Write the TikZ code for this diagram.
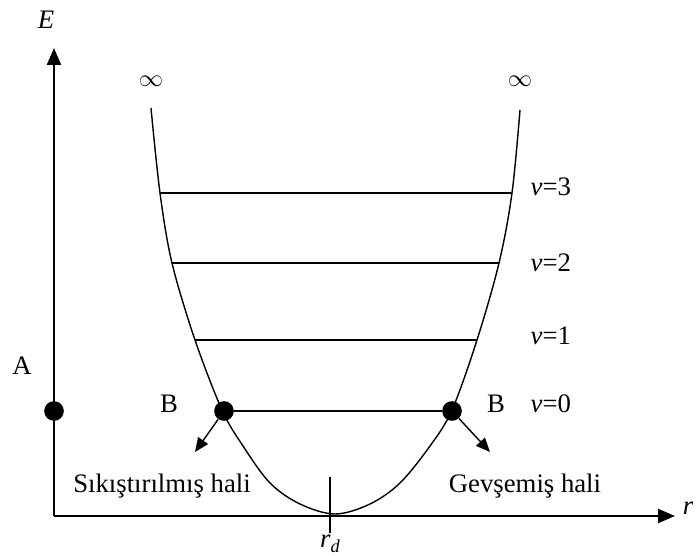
\documentclass[tikz,border=0pt]{standalone}
\usepackage{fontspec}
\setmainfont{Liberation Serif}
\usetikzlibrary{arrows.meta,positioning}

\begin{document}
\begin{tikzpicture}[x=0.025cm, y=-0.025cm,
    font=\fontsize{19}{22}\selectfont,
    axis/.style={line width=1.2pt, -{Triangle[length=12pt,width=10pt]}},
    well/.style={line width=1pt},
    level/.style={line width=1pt},
    dot/.style={circle, fill=black, inner sep=0pt, minimum size=14pt},
    push/.style={line width=1pt, -{Triangle[length=10pt,width=8.5pt]}},
    lbl/.style={inner sep=1pt}]
    \useasboundingbox (0,0) rectangle (698,556);
    % axes
    \coordinate (O) at (54,516);
    \coordinate (Etip) at (54,48);
    \coordinate (rtip) at (675,516);
    \draw [axis] (O) -- (Etip);
    \draw [axis] (O) -- (rtip);
    \node [lbl] (E) at (46,20) {\textit{E}};
    \node [lbl] (r) at (688,508) {\textit{r}};
    % potential well
    \draw [well] plot[smooth, tension=0.55] coordinates {(151,108) (160,193) (172,263) (195,340) (222,410) (243,446) (270,483) (300,504) (335,514) (370,504) (400,483) (430,446) (452,410) (477,340) (499,263) (512,193) (520,110)};
    \node [lbl] (infl) at (151,81) {$\infty$};
    \node [lbl] (infr) at (520,81) {$\infty$};
    % r_d tick
    \coordinate (rdtop) at (330,477);
    \coordinate (rdbot) at (330,533);
    \draw [line width=1pt] (rdtop) -- (rdbot);
    \node [lbl, anchor=north] (rd) at (rdbot) {\textit{r}\rlap{\raisebox{-0.45ex}{\fontsize{13}{14}\selectfont\textit{d}}}\phantom{\fontsize{13}{14}\selectfont\textit{d}}};
    % vibrational levels
    \coordinate (L3) at (160,193); \coordinate (R3) at (512,193);
    \coordinate (L2) at (172,263); \coordinate (R2) at (499,263);
    \coordinate (L1) at (195,340); \coordinate (R1) at (477,340);
    \draw [level] (L3) -- (R3);
    \draw [level] (L2) -- (R2);
    \draw [level] (L1) -- (R1);
    \node [dot] (Bl) at (224,411) {};
    \node [dot] (Br) at (452,411) {};
    \draw [level] (Bl) -- (Br);
    \node [dot] (A) at (54,411) {};
    \node [lbl, anchor=west] (v3) at (529,187) {\textit{v}=3};
    \node [lbl, anchor=west] (v2) at (529,263) {\textit{v}=2};
    \node [lbl, anchor=west] (v1) at (529,336) {\textit{v}=1};
    \node [lbl, anchor=west] (v0) at (529,404) {\textit{v}=0};
    \node [lbl] (Alab) at (22,366) {A};
    \node [lbl] (Bllab) at (169,404) {B};
    \node [lbl] (Brlab) at (496,404) {B};
    % compressed / stretched
    \coordinate (Bltip) at (195,452);
    \coordinate (Brtip) at (490,452);
    \draw [push] (Bl) -- (Bltip);
    \draw [push] (Br) -- (Brtip);
    \node [lbl] (comp) at (162,486) {Sıkıştırılmış hali};
    \node [lbl] (relax) at (525,486) {Gevşemiş hali};
\end{tikzpicture}
\end{document}
